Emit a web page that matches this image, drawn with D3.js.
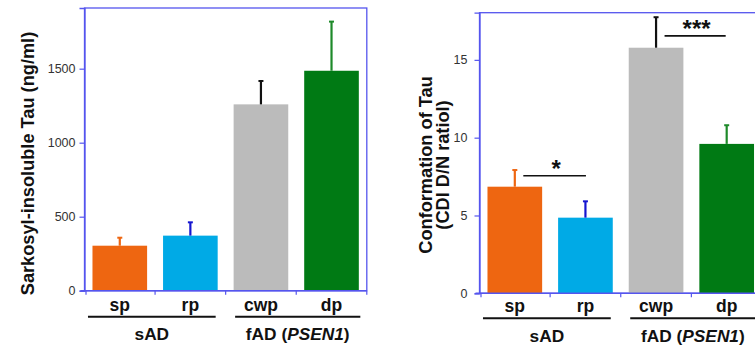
<!DOCTYPE html>
<html><head><meta charset="utf-8">
<script src="https://cdn.jsdelivr.net/npm/d3@7"></script>
<style>body{margin:0;background:#fff}svg{display:block;font-family:Arial,"Liberation Sans",sans-serif}</style>
</head><body><svg id="c" width="755" height="345"></svg>
<script>
const categories = ["sp","rp","cwp","dp"];
const colors = ["#EE6611","#00AAE6","#BBBBBB","#007A14"];
const errColors = ["#EE6611","#1515D0","#111111","#1E8A2A"];
const groups = [{label:"sAD", from:0, to:1}, {label:"fAD (", italic:"PSEN1", after:")", from:2, to:3}];
const tauValues = [304, 372, 1259, 1486];
const tauErrors = [54, 90, 158, 332];
const tauTicks = [0, 500, 1000, 1500];
const confValues = [6.85, 4.86, 15.78, 9.6];
const confErrors = [1.07, 1.05, 1.96, 1.2];
const confTicks = [0, 5, 10, 15];
const sigMarks = [{a:0, b:1, value:7.55, text:"*"}, {a:2, b:3, value:16.54, text:"***"}];

const svg = d3.select("#c");
const F = "Arial, Liberation Sans, sans-serif";

function panel(o){
  const g = svg.append("g");
  const x = d3.scaleBand().domain(categories).range([o.x0, o.x1]).paddingInner(0.226).paddingOuter(0.113);
  const y = d3.scaleLinear().domain([0, o.ymax]).range([o.y0, o.y1]);
  g.append("rect").attr("x", o.x0).attr("y", o.y1).attr("width", o.x1-o.x0).attr("height", o.y0-o.y1)
    .attr("fill","none").attr("stroke","#5555ee").attr("stroke-width",1.3);
  g.selectAll(".bar").data(o.values).enter().append("rect")
    .attr("x",(d,i)=>x(categories[i])).attr("width",x.bandwidth())
    .attr("y",d=>y(d)).attr("height",d=>o.y0-y(d)).attr("fill",(d,i)=>colors[i]);
  o.values.forEach((v,i)=>{
    const cx = x(categories[i]) + x.bandwidth()/2;
    g.append("line").attr("x1",cx).attr("x2",cx).attr("y1",y(v)).attr("y2",y(v+o.errors[i]))
      .attr("stroke",errColors[i]).attr("stroke-width",2.2);
    g.append("line").attr("x1",cx-2.5).attr("x2",cx+2.5).attr("y1",y(v+o.errors[i])).attr("y2",y(v+o.errors[i]))
      .attr("stroke",errColors[i]).attr("stroke-width",2);
  });
  const ya = g.append("g").attr("transform",`translate(${o.x0},0)`)
    .call(d3.axisLeft(y).tickValues(o.ticks).tickFormat(d3.format("d")).tickSize(5).tickPadding(o.pad));
  ya.select(".domain").attr("stroke","#5555ee").attr("stroke-width",1.3);
  ya.selectAll(".tick line").attr("stroke","#5555ee").attr("stroke-width",1.2);
  ya.selectAll("text").attr("font-size",12.5).attr("fill","#333").attr("font-family",F);
  const step = (o.x1-o.x0)/4;
  for(let k=0;k<=4;k++){
    const tx = o.x0 + step*k + (k===0?1.5:0);
    g.append("line").attr("x1",tx).attr("x2",tx).attr("y1",o.y0).attr("y2",o.y0+4).attr("stroke","#5555ee").attr("stroke-width",1.2);
  }
  g.append("line").attr("x1",o.x0-4).attr("x2",o.x1).attr("y1",o.y0).attr("y2",o.y0).attr("stroke","#5555ee").attr("stroke-width",1.6);
  categories.forEach(c=>{
    g.append("text").attr("x",x(c)+x.bandwidth()/2).attr("y",o.catY).attr("text-anchor","middle")
      .attr("font-size",17.5).attr("font-weight","bold").attr("fill","#111").text(c);
  });
  groups.forEach((gr,gi)=>{
    const a = x(categories[gr.from]) + (gi===0 ? -4.5 : 1.5), b = x(categories[gr.to]) + x.bandwidth() + (gi===0 ? -2 : 1.5);
    g.append("line").attr("x1",a).attr("x2",b).attr("y1",o.lineY).attr("y2",o.lineY).attr("stroke","#111").attr("stroke-width",2);
    const t = g.append("text").attr("x",(a+b)/2).attr("y",o.grpY).attr("text-anchor","middle")
      .attr("font-size",17.3).attr("font-weight","bold").attr("fill","#111");
    t.append("tspan").text(gr.label);
    if(gr.italic){ t.append("tspan").attr("font-style","italic").text(gr.italic); t.append("tspan").text(gr.after); }
  });
  return {g,x,y};
}

const L = panel({x0:84.5, x1:366.8, y0:290.7, y1:8, ymax:1910, values:tauValues, errors:tauErrors, ticks:tauTicks,
  pad:4, catY:311, lineY:316.7, grpY:340});
L.g.append("text").attr("transform","translate(34,163.5) rotate(-90)").attr("text-anchor","middle")
  .attr("font-size",18.2).attr("font-weight","bold").attr("fill","#111").text("Sarkosyl-insoluble Tau (ng/ml)");

const R = panel({x0:479.5, x1:762, y0:293.3, y1:12.7, ymax:18.03, values:confValues, errors:confErrors, ticks:confTicks,
  pad:7, catY:311.7, lineY:318.3, grpY:341.5});
R.g.append("text").attr("transform","translate(432,165) rotate(-90)").attr("text-anchor","middle")
  .attr("font-size",18.2).attr("font-weight","bold").attr("fill","#111").text("Conformation of Tau");
R.g.append("text").attr("transform","translate(449,165) rotate(-90)").attr("text-anchor","middle")
  .attr("font-size",18.2).attr("font-weight","bold").attr("fill","#111").text("(CDI D/N ratiol)");
sigMarks.forEach(s=>{
  const xa = R.x(categories[s.a]) + R.x.bandwidth()/2 + 8.5;
  const xb = R.x(categories[s.b]) + R.x.bandwidth()/2 + (s.a===0? 0.5 : -1);
  const yy = R.y(s.value);
  R.g.append("line").attr("x1",xa).attr("x2",xb).attr("y1",yy).attr("y2",yy).attr("stroke","#111").attr("stroke-width",1.6);
  R.g.append("text").attr("x",(xa+xb)/2 + 1.5).attr("y",yy+1).attr("text-anchor","middle")
    .attr("font-size",24).attr("font-weight","bold").attr("fill","#111").text(s.text);
});
</script></body></html>
